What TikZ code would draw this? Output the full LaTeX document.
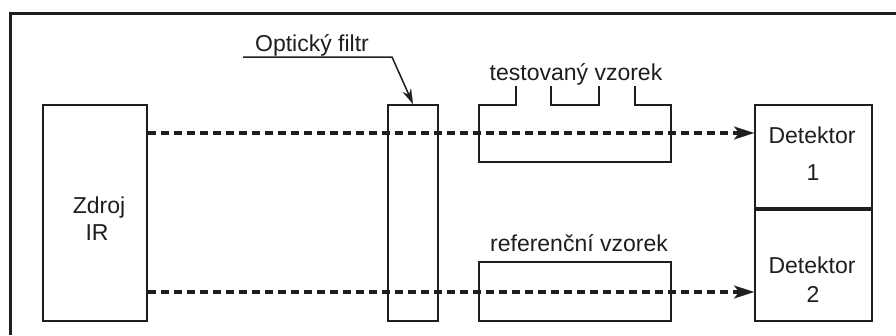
\documentclass[tikz,border=0pt]{standalone}
\usepackage{fontspec}
\setmainfont{Liberation Sans}
\usetikzlibrary{arrows.meta}
\definecolor{ink}{HTML}{1E1E1E}
\begin{document}
\begin{tikzpicture}[x=1pt,y=-1pt,
  box/.style={draw=ink, line width=2pt, inner sep=0pt, rectangle},
  txt/.style={text=ink, font=\fontsize{23}{27}\selectfont, inner sep=0pt, anchor=base},
  beam/.style={draw=ink, line width=3.5pt, dash pattern=on 8pt off 5pt,
    -{Stealth[length=20pt,width=13pt,inset=5pt,line width=0.1pt]}},
  leader/.style={draw=ink, line width=1.5pt, -{Stealth[length=15pt,width=9pt,line width=0.1pt]}},
  outline/.style={draw=ink, line width=2pt},
]
\useasboundingbox (0,0) rectangle (896,335);
\fill[white] (0,0) rectangle (896,335);
% frame
\draw[ink, line width=3pt] (10.5,335) -- (10.5,13) -- (896,13);

% boxes
\node[box, minimum width=104pt, minimum height=216pt] (src) at (95,213) {};
\node[box, minimum width=50pt, minimum height=216pt] (filt) at (413,213) {};
\node[box, minimum width=192pt, minimum height=59pt] (ref) at (575,291.5) {};
\node[box, minimum width=117pt, minimum height=103pt] (det1) at (813.5,156.5) {};
\node[box, minimum width=117pt, minimum height=113pt] (det2) at (813.5,264.5) {};
\draw[ink, line width=3pt] (det1.south west) -- (det1.south east);

% test sample (notched outline)
\draw[outline] (516,86) -- (516,105) -- (479,105) -- (479,162) -- (671,162) -- (671,105) -- (635,105) -- (635,86);
\draw[outline] (551,86) -- (551,105) -- (599,105) -- (599,86);

% texts
\node[txt] (zdroj) at (99,213) {Zdroj};
\node[txt] (ir) at (97,240) {IR};
\node[txt] (optf) at (312,51) {Optický filtr};
\node[txt] (testl) at (576,80) {testovaný vzorek};
\node[txt] (refl) at (579,251) {referenční vzorek};
\node[txt] (d1) at (812,143) {Detektor};
\node[txt] (n1) at (813,180) {1};
\node[txt] (d2) at (812,273) {Detektor};
\node[txt] (n2) at (813,302) {2};

% leader to filter
\coordinate (ldr) at (243,57);
\draw[leader] (ldr) -- ++(149,0) -- (filt.north);

% beams
\coordinate (y1) at (0,133);
\coordinate (y2) at (0,292);
\draw[beam] (src.east |- y1) -- (det1.west |- y1);
\draw[beam] (src.east |- y2) -- (det2.west |- y2);
\end{tikzpicture}
\end{document}
